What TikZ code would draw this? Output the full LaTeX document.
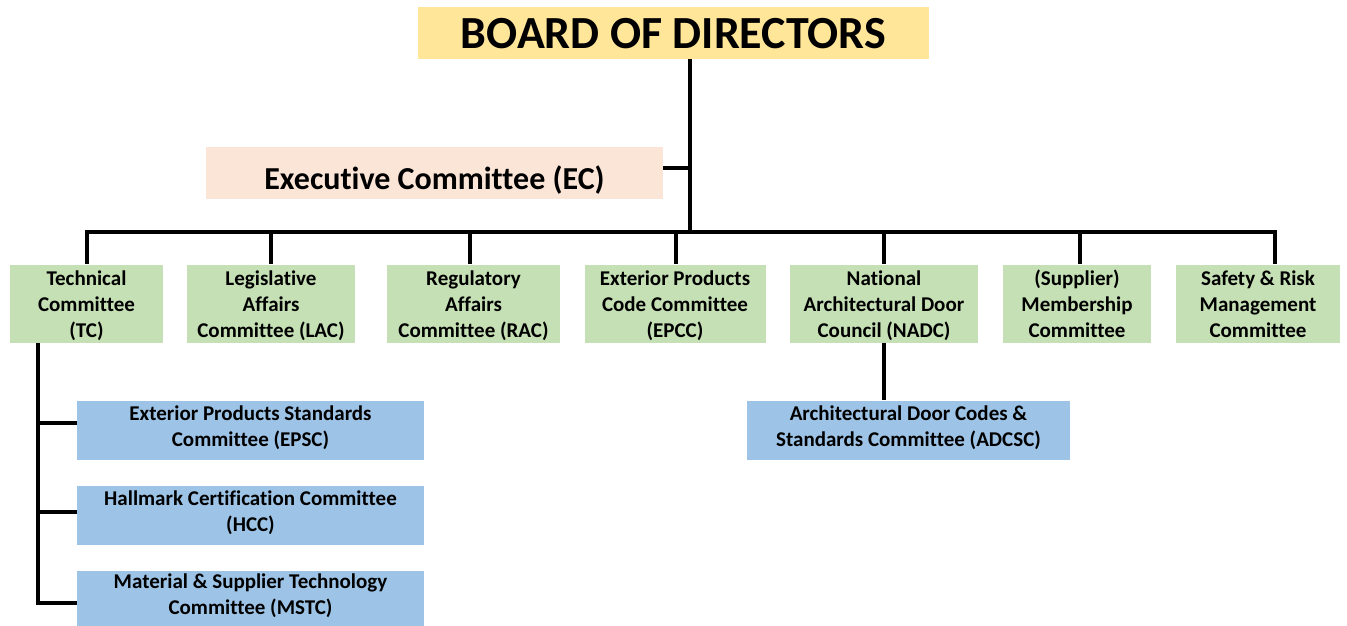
\documentclass[tikz,border=0pt]{standalone}
\usepackage{fontspec}
\setmainfont{Carlito}[Ligatures={NoCommon}]
\definecolor{boardc}{HTML}{FFE699}
\definecolor{ecc}{HTML}{FBE5D6}
\definecolor{greenc}{HTML}{C5E0B4}
\definecolor{bluec}{HTML}{9DC3E6}
\newcommand\gtop{\rule{0pt}{21.2pt}}
\newcommand\gbot{\rule[-4.8pt]{0pt}{4.8pt}}
\newcommand\btop{\rule{0pt}{16.2pt}}
\newcommand\bbot{\rule[-9.8pt]{0pt}{9.8pt}}
\tikzset{
  boxbase/.style={inner sep=0pt, align=center, font=\bfseries\fontsize{21}{26}\selectfont},
  gbox/.style={boxbase, fill=greenc, minimum height=77},
  bbox/.style={boxbase, fill=bluec, minimum height=59},
  conn/.style={line width=3.5pt, black, line join=miter},
}
\begin{document}
\begin{tikzpicture}[x=1pt,y=-1pt]
\useasboundingbox (0,0) rectangle (1347,626);
% boxes
\node[fill=boardc, minimum width=511, minimum height=52, inner sep=0pt] (board) at (673.5,33) {};
\node[font=\bfseries\fontsize{46}{50}\selectfont] at ([yshift=-1pt]board.center) {BOARD OF DIRECTORS};
\node[fill=ecc, minimum width=457, minimum height=52, inner sep=0pt] (ec) at (434.5,172.5) {};
\node[font=\bfseries\fontsize{32}{36}\selectfont] at ([yshift=-8pt]ec.center) {Executive Committee (EC)};

\node[gbox, minimum width=153] (tc) at (86.5,303.5) {\gtop Technical\\Committee\\(TC)\gbot};
\node[gbox, minimum width=168] (lac) at (271,303.5) {\gtop Legislative\\Affairs\\Committee (LAC)\gbot};
\node[gbox, minimum width=173] (rac) at (473.5,303.5) {\gtop Regulatory\\Affairs\\Committee (RAC)\gbot};
\node[gbox, minimum width=181] (epcc) at (675,303.5) {\gtop Exterior Products\\Code Committee\\(EPCC)\gbot};
\node[gbox, minimum width=188] (nadc) at (884,303.5) {\gtop National\\Architectural Door\\Council (NADC)\gbot};
\node[gbox, minimum width=148] (supp) at (1077,303.5) {\gtop (Supplier)\\Membership\\Committee\gbot};
\node[gbox, minimum width=164] (safety) at (1258,303.5) {\gtop Safety \& Risk\\Management\\Committee\gbot};

\node[bbox, minimum width=347] (epsc) at (250.5,430.5) {\btop Exterior Products Standards\\Committee (EPSC)\bbot};
\node[bbox, minimum width=347] (hcc) at (250.5,515.5) {\btop Hallmark Certification Committee\\(HCC)\bbot};
\node[bbox, minimum width=347, minimum height=55] (mstc) at (250.5,598.5) {\btop Material \& Supplier Technology\\Committee (MSTC)\bbot};
\node[bbox, minimum width=323] (adcsc) at (908.5,430) {\btop Architectural Door Codes \&\\Standards Committee (ADCSC)\bbot};

% connectors
\coordinate (bus) at (690,232);
\coordinate (ecj) at (690,168);
\coordinate (d1) at (87,232);
\coordinate (d2) at (271,232);
\coordinate (d3) at (470,232);
\coordinate (d4) at (676,232);
\coordinate (d5) at (884,232);
\coordinate (d6) at (1080,232);
\coordinate (d7) at (1275,232);
\coordinate (tcx) at (38,342);

\draw[conn] (board.south -| bus) -- (bus);
\draw[conn] (ecj -| ec.east) -- (ecj);
\draw[conn] (d1 |- tc.north) -- (d1) -- (d7) -- (d7 |- safety.north);
\draw[conn] (d2) -- (d2 |- lac.north);
\draw[conn] (d3) -- (d3 |- rac.north);
\draw[conn] (d4) -- (d4 |- epcc.north);
\draw[conn] (d5) -- (d5 |- nadc.north);
\draw[conn] (d6) -- (d6 |- supp.north);

\draw[conn] (tcx |- tc.south) -- (tcx |- 0,603) -- (mstc.west |- 0,603);
\draw[conn] (tcx |- 0,423) -- (epsc.west |- 0,423);
\draw[conn] (tcx |- 0,512) -- (hcc.west |- 0,512);
\draw[conn] (nadc.south) -- (nadc.south |- adcsc.north);
\end{tikzpicture}
\end{document}
